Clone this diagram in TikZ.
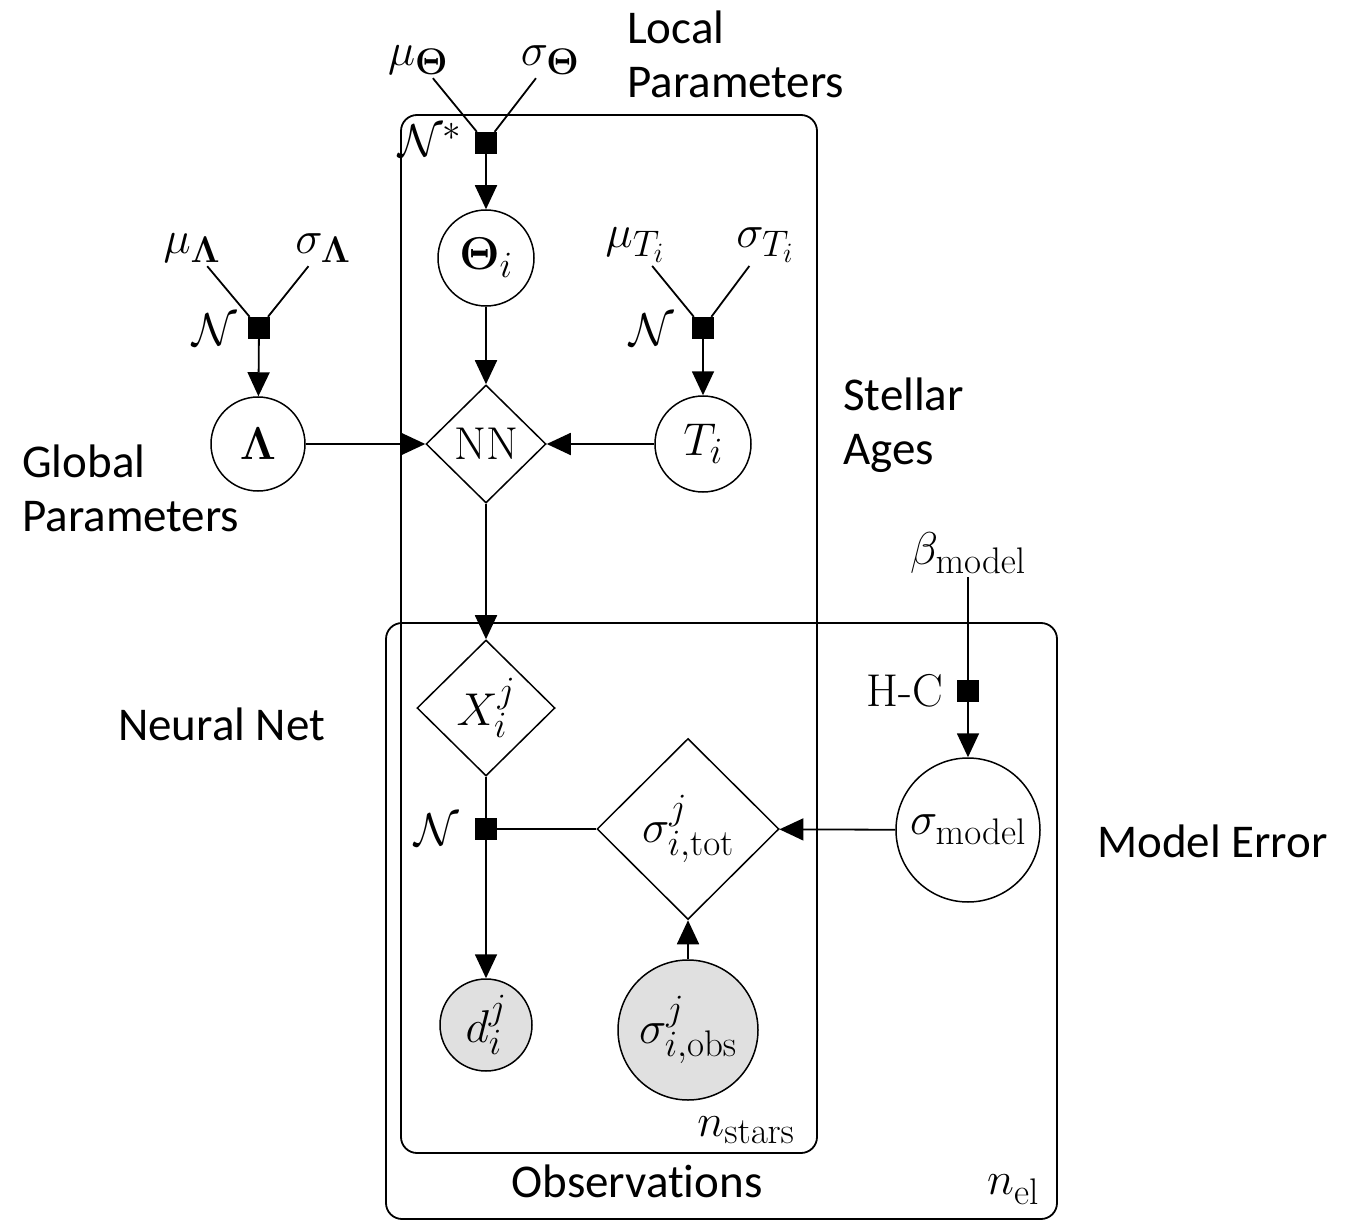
\RequirePackage{fix-cm}
\documentclass[tikz,border=0pt]{standalone}
\usepackage{amsmath}
\usepackage[no-math]{fontspec}
\newfontfamily\annfont[Ligatures=NoCommon]{Carlito}
\usetikzlibrary{shapes.geometric,arrows.meta}
\definecolor{obsgray}{RGB}{224,224,224}
\DeclareMathSizes{46}{46}{37}{28}
\begin{document}
\begin{tikzpicture}[x=1pt,y=-1pt,
  every node/.style={font=\fontsize{46}{54}\selectfont},
  latent/.style={circle,draw,line width=1.5pt,inner sep=0pt,minimum size=96pt},
  obs/.style={latent,fill=obsgray},
  det/.style={diamond,draw,line width=1.5pt,inner sep=0pt,aspect=1},
  fac/.style={rectangle,fill=black,inner sep=0pt,minimum size=22pt},
  plate/.style={draw,line width=1.8pt,rounded corners=16pt,inner sep=0pt},
  edge/.style={line width=1.8pt},
  arr/.style={edge,-{Triangle[length=24pt,width=22pt]}},
  ann/.style={font=\annfont\fontsize{47}{54}\selectfont,align=left,anchor=base west,inner sep=0pt}
]
\useasboundingbox (0,0) rectangle (1345,1225);
% plates
\node[plate,minimum width=416pt,minimum height=1038pt] (pstars) at (609,634) {};
\node[plate,minimum width=671pt,minimum height=596pt] (pel) at (721.5,921) {};
% local parameters
\node[fac] (fT) at (486,143) {};
\node (muTh) at (418,60) {$\mu_{\mathbf{\Theta}}$};
\node (sgTh) at (550,60) {$\sigma_{\mathbf{\Theta}}$};
\node (nTh) at (430,140) {$\mathcal{N}^{*}$};
\node[latent] (Th) at (486,258) {$\mathbf{\Theta}_i$};
\node[det,minimum width=120pt,minimum height=118pt] (NN) at (486,444) {NN};
% global
\node[latent,minimum size=94pt] (L) at (258,444) {$\mathbf{\Lambda}$};
\node[fac] (fL) at (259,328) {};
\node (muL) at (192,248) {$\mu_{\mathbf{\Lambda}}$};
\node (sgL) at (323,248) {$\sigma_{\mathbf{\Lambda}}$};
\node (nL) at (215,330) {$\mathcal{N}$};
% ages
\node[latent] (T) at (703,444) {$T_i$};
\node[fac] (fTi) at (703,328) {};
\node (muT) at (635,245) {$\mu_{T_i}$};
\node (sgT) at (765,245) {$\sigma_{T_i}$};
\node (nT) at (652,330) {$\mathcal{N}$};
% observations
\node[det,minimum width=138pt,minimum height=136pt] (X) at (486,708) {$X_i^j$};
\node[fac] (fX) at (486,829) {};
\node (nX) at (437,830) {$\mathcal{N}$};
\node[det,minimum width=182pt,minimum height=181pt] (tot) at (688,829) {$\sigma_{i,\mathrm{tot}}^j$};
\node[latent,minimum size=144pt] (mod) at (968,830) {$\sigma_{\mathrm{model}}$};
\node[fac] (fH) at (968,691) {};
\node (nH) at (905,691) {H-C};
\node (beta) at (968,553) {$\beta_{\mathrm{model}}$};
\node[obs,minimum size=92pt] (d) at (486,1025) {$d_i^j$};
\node[obs,minimum size=140pt] (obsn) at (688,1030) {$\sigma_{i,\mathrm{obs}}^j$};
\node (ns) at (746,1130) {$n_{\mathrm{stars}}$};
\node (nel) at (1013,1190) {$n_{\mathrm{el}}$};
% edges
\draw[edge] (muTh) -- (fT);
\draw[edge] (sgTh) -- (fT);
\draw[arr] (fT) -- (Th);
\draw[arr] (Th) -- (NN);
\draw[edge] (muL) -- (fL);
\draw[edge] (sgL) -- (fL);
\draw[arr] (fL) -- (L);
\draw[arr] (L) -- (NN);
\draw[edge] (muT) -- (fTi);
\draw[edge] (sgT) -- (fTi);
\draw[arr] (fTi) -- (T);
\draw[arr] (T) -- (NN);
\draw[arr] (NN) -- (X);
\draw[edge] (X) -- (fX);
\draw[arr] (fX) -- (d);
\draw[edge] (tot) -- (fX);
\draw[arr] (mod) -- (tot);
\draw[edge] (beta) -- (fH);
\draw[arr] (fH) -- (mod);
\draw[arr] (obsn) -- (tot);
% annotations (anchor = baseline of last line)
\node[ann] (aLocal) at (627,98) {Local\\Parameters};
\node[ann] (aStellar) at (843,464) {Stellar\\Ages};
\node[ann] (aGlobal) at (22,531) {Global\\Parameters};
\node[ann] (aNN) at (118,740) {Neural Net};
\node[ann] (aModel) at (1097,857) {Model Error};
\node[ann,anchor=base] (aObs) at (637,1197) {Observations};
\end{tikzpicture}
\end{document}
